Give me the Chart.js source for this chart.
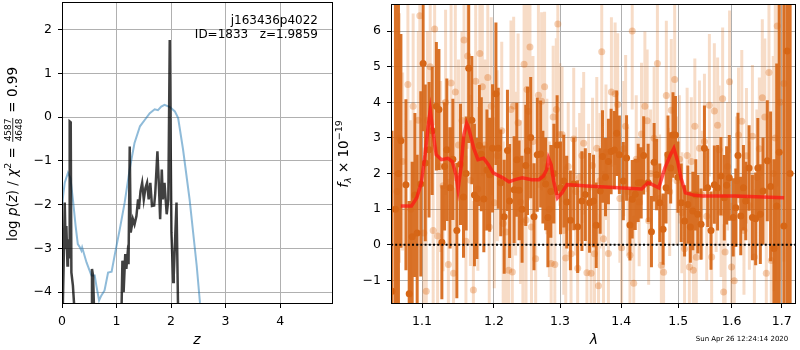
<!DOCTYPE html>
<html>
<head>
<meta charset="utf-8">
<script src="https://cdn.jsdelivr.net/npm/chart.js@4.4.0/dist/chart.umd.min.js"></script>
<style>
body { margin: 0; background: #fff; width: 800px; height: 350px; position: relative; overflow: hidden; }
canvas { position: absolute; top: 0; }
#pz { left: 0; }
#spec { left: 335px; }
</style>
</head>
<body>
<canvas id="pz" width="340" height="350"></canvas>
<canvas id="spec" width="465" height="350"></canvas>
<script>
// ---- left panel: log p(z) ----
const zTicks = [0, 1, 2, 3, 4];
const lpTicks = [-4, -3, -2, -1, 0, 1, 2];

const zBlue = [0.0, 0.02, 0.05, 0.11, 0.154, 0.20, 0.25, 0.29, 0.33, 0.356, 0.37, 0.45, 0.54, 0.60, 0.63, 0.68, 0.72, 0.78, 0.845, 0.91,
  0.97, 1.06, 1.15, 1.24, 1.33, 1.43, 1.52, 1.61, 1.70, 1.76, 1.82, 1.88, 1.98, 2.07, 2.13, 2.22, 2.34, 2.47, 2.53, 2.60];
const lpBlue = [-2.1, -1.80, -1.50, -1.27, -1.39, -1.88, -2.49, -2.90, -2.98, -3.05, -2.98, -3.32, -3.62, -3.62, -3.85, -4.19, -4.08, -3.96, -3.55, -3.53,
  -3.13, -2.56, -1.95, -1.20, -0.59, -0.21, -0.06, 0.09, 0.18, 0.16, 0.24, 0.28, 0.23, 0.13, -0.02, -0.74, -1.88, -3.39, -4.24, -4.9];

const zDark = [0.01, 0.03, 0.05, 0.068, 0.08, 0.10, 0.11, 0.13, 0.141, 0.16, 0.172, 0.20, 0.233, 0.26,
  0.51, 0.535, 0.55, 0.57, 0.59, 0.62,
  1.06, 1.09, 1.108, 1.13, 1.16, 1.18, 1.20, 1.22, 1.242, 1.26, 1.28, 1.30, 1.33, 1.365, 1.395, 1.41, 1.44, 1.47, 1.50,
  1.53, 1.56, 1.59, 1.62, 1.65, 1.69, 1.71, 1.75, 1.78, 1.80, 1.83, 1.85, 1.88, 1.92, 1.95, 1.976, 2.007, 2.04, 2.05,
  2.10, 2.13, 2.16, 4.97];
const lpDark = [-4.6, -3.39, -1.95, -3.02, -2.49, -3.39, -2.79, -3.2, -0.1, -0.12, -3.55, -3.85, -4.5, -9,
  -9, -4.5, -3.47, -3.62, -4.5, -9,
  -9, -4.5, -3.28, -4.0, -3.13, -3.47, -3.17, -3.36, -0.67, -2.64, -2.49, -2.33, -2.45, -2.26, -1.88, -2.1, -1.69, -1.5, -1.88,
  -1.62, -1.5, -1.88, -1.5, -2.03, -2.02, -1.74, -0.78, -1.65, -2.33, -1.2, -1.88, -1.5, -2.22, -1.88, 1.76, -2.64, -3.77, -3.6,
  -1.95, -4.5, -9, -9];

// ---- right panel: spectrum ----
const lamTicks = [1.1, 1.2, 1.3, 1.4, 1.5, 1.6, 1.7];
const fTicks = [-1, 0, 1, 2, 3, 4, 5, 6];

const lamDark = [1.0607, 1.0651, 1.0690, 1.0722, 1.0787, 1.0830, 1.0869, 1.0905, 1.0935, 1.0983,
  1.1014, 1.1043, 1.1093, 1.1136, 1.1192, 1.1227, 1.1267, 1.1304, 1.1335, 1.1379,
  1.1418, 1.1473, 1.1524, 1.1566, 1.1603, 1.1639, 1.1684, 1.1720, 1.1755, 1.1790,
  1.1818, 1.1854, 1.1899, 1.1939, 1.1980, 1.2029, 1.2063, 1.2099, 1.2150, 1.2198,
  1.2230, 1.2297, 1.2337, 1.2371, 1.2416, 1.2471, 1.2498, 1.2546, 1.2596, 1.2646,
  1.2698, 1.2733, 1.2775, 1.2810, 1.2856, 1.2903, 1.2954, 1.3007, 1.3059, 1.3106,
  1.3164, 1.3217, 1.3280, 1.3349, 1.3404, 1.3473, 1.3538, 1.3582, 1.3647, 1.3685,
  1.3735, 1.3784, 1.3829, 1.3884, 1.3923, 1.3968, 1.4035, 1.4090, 1.4148, 1.4187,
  1.4239, 1.4290, 1.4342, 1.4385, 1.4463, 1.4521, 1.4568, 1.4612, 1.4668, 1.4727,
  1.4780, 1.4815, 1.4863, 1.4905, 1.4949, 1.4994, 1.5054, 1.5115, 1.5175, 1.5221,
  1.5267, 1.5322, 1.5359, 1.5420, 1.5483, 1.5544, 1.5606, 1.5670, 1.5732, 1.5795,
  1.5860, 1.5904, 1.5956, 1.6032, 1.6082, 1.6125, 1.6179, 1.6232, 1.6277, 1.6343,
  1.6409, 1.6474, 1.6517, 1.6567, 1.6621, 1.6707, 1.6774, 1.6842, 1.6899, 1.6950,
  1.7046, 1.7113, 1.7175];
const fDark = [-1.3, 1.0, 2.0, 2.92, 1.69, -1.37, 0.23, 1.4, 0.33, 1.71,
  5.09, 2.3, 2.67, 3.2, 3.89, 3.8, 0.07, 2.2, 2.67, 1.6,
  2.4, 0.4, 2.26, 1.34, 2.0, 4.96, 3.5, 1.4, 1.3, 2.79,
  2.54, 1.29, 2.1, 1.97, 2.71, 4.24, 2.71, 1.74, 0.79, 2.65,
  1.23, 1.55, 2.39, 1.53, 1.0, 2.23, 2.64, 3.01, 0.79, 2.53,
  2.55, 1.9, 1.71, 0.77, 1.5, 2.0, 2.8, 1.6, 1.79, 1.2,
  0.69, 1.71, 0.51, 1.23, 1.41, 1.18, 1.23, 0.55, 1.51, 2.48,
  1.9, 2.34, 2.62, 2.66, 3.13, 2.53, 1.79, 2.44, 0.56, 1.28,
  1.42, 1.74, 1.74, 2.51, 1.74, 0.37, 2.32, 1.97, 1.18, 0.44,
  1.6, 2.53, 2.16, 3.08, 3.08, 1.9, 1.18, 0.67, 1.13, 0.5,
  0.95, 1.4, 0.86, 0.58, 2.71, 1.6, 0.4, 1.69, 1.6, 1.93,
  1.32, 1.67, 1.88, 0.77, 1.04, 2.51, 0.81, 1.6, 1.23, 2.16,
  0.77, 0.73, 2.16, 0.86, 1.51, 2.36, 1.64, -0.1, 1.09, 2.6,
  0.53, 5.44, 2.0];
const eDark = [4.5, 8, 6, 3.0, 2.4, 2.6, 2.1, 2.3, 2.2, 2.6,
  1.9, 2.2, 1.9, 1.8, 1.8, 1.7, 1.6, 1.8, 2.0, 1.7,
  1.7, 1.9, 1.7, 1.7, 1.6, 2.1, 1.8, 2.0, 1.7, 1.7,
  1.6, 1.5, 1.7, 1.6, 1.8, 2.0, 1.7, 1.5, 1.6, 1.7,
  1.6, 1.5, 1.6, 1.4, 1.5, 1.7, 1.8, 1.7, 1.5, 1.6,
  1.5, 1.3, 1.3, 1.4, 1.3, 1.4, 1.4, 1.3, 1.3, 1.3,
  1.4, 1.3, 1.3, 1.4, 1.3, 1.4, 1.3, 1.2, 1.2, 1.3,
  1.1, 1.2, 1.2, 1.1, 1.2, 1.1, 1.1, 1.2, 1.0, 1.1,
  1.0, 1.1, 1.0, 1.1, 1.1, 1.0, 1.1, 1.0, 1.1, 1.0,
  1.0, 1.1, 1.0, 1.2, 1.1, 1.0, 1.1, 1.0, 1.1, 1.0,
  1.1, 1.0, 1.1, 1.0, 1.2, 1.1, 1.1, 1.1, 1.2, 1.1,
  1.2, 1.1, 1.2, 1.1, 1.1, 1.2, 1.1, 1.2, 1.1, 1.2,
  1.2, 1.3, 1.4, 1.4, 1.5, 1.7, 2.1, 2.5, 4, 6,
  8, 8, 8];

const lamLight = [1.0671, 1.0703, 1.0744, 1.0813, 1.0852, 1.0882, 1.0950, 1.0970, 1.1023, 1.1056,
  1.1073, 1.1109, 1.1149, 1.1169, 1.1209, 1.1250, 1.1284, 1.1318, 1.1356, 1.1393,
  1.1427, 1.1452, 1.1496, 1.1545, 1.1573, 1.1600, 1.1625, 1.1663, 1.1705, 1.1738,
  1.1769, 1.1797, 1.1833, 1.1868, 1.1911, 1.1932, 1.1961, 1.2005, 1.2048, 1.2114,
  1.2135, 1.2179, 1.2216, 1.2250, 1.2270, 1.2290, 1.2319, 1.2356, 1.2393, 1.2428,
  1.2446, 1.2475, 1.2490, 1.2513, 1.2535, 1.2558, 1.2581, 1.2622, 1.2664, 1.2713,
  1.2759, 1.2794, 1.2833, 1.2861, 1.2892, 1.2918, 1.2941, 1.2965, 1.2996, 1.3032,
  1.3059, 1.3090, 1.3129, 1.3174, 1.3217, 1.3248, 1.3280, 1.3312, 1.3349, 1.3377,
  1.3430, 1.3457, 1.3498, 1.3522, 1.3554, 1.3591, 1.3619, 1.3644, 1.3673, 1.3702,
  1.3743, 1.3784, 1.3834, 1.3896, 1.3939, 1.3976, 1.4006, 1.4043, 1.4074, 1.4111,
  1.4148, 1.4187, 1.4213, 1.4256, 1.4307, 1.4347, 1.4406, 1.4446, 1.4472, 1.4507,
  1.4568, 1.4626, 1.4665, 1.4696, 1.4736, 1.4785, 1.4845, 1.4874, 1.4935, 1.4976,
  1.5021, 1.5066, 1.5115, 1.5162, 1.5203, 1.5239, 1.5276, 1.5304, 1.5331, 1.5390,
  1.5433, 1.5483, 1.5526, 1.5576, 1.5619, 1.5670, 1.5704, 1.5732, 1.5761, 1.5799,
  1.5828, 1.5847, 1.5875, 1.5923, 1.5961, 1.6000, 1.6052, 1.6096, 1.6135, 1.6199,
  1.6242, 1.6291, 1.6349, 1.6409, 1.6448, 1.6497, 1.6547, 1.6607, 1.6657, 1.6687,
  1.6741, 1.6788, 1.6828, 1.6869, 1.6909, 1.6970, 1.7046];
const fLight = [1.5, 3.0, 2.34, 4.5, 1.0, 3.89, 3.5, 6.43, 0.33, -1.3,
  3.5, 5.0, 0.4, 6.06, 0.25, 2.2, 1.66, 4.0, -0.55, 4.54,
  -0.8, 4.29, 2.8, 3.49, 5.75, 0.1, 5.3, 1.81, -1.27, 4.59,
  1.57, 5.37, 4.44, 2.8, 4.7, 0.5, 3.89, 1.18, 2.5, 3.2,
  0.6, 0.36, -0.71, 3.8, -0.76, 3.9, 2.0, 3.43, 1.2, 0.64,
  5.07, 0.7, 4.36, 3.75, 5.55, 0.5, 2.9, -0.39, 4.2, 4.03,
  4.44, 2.2, 1.0, -0.52, 3.59, -0.55, 3.8, 6.2, 3.1, 3.1,
  0.4, -0.37, 2.2, -0.25, 2.97, 1.5, -0.66, 1.9, 2.51, 2.85,
  -0.78, 1.6, -0.8, 2.23, -0.25, 2.71, -1.15, 1.8, 5.42, 0.17,
  2.6, -0.24, 4.29, 4.24, 3.94, 1.3, -0.08, 2.7, 3.33, 1.5,
  -0.29, 6.0, -1.08, 2.4, 1.2, 3.11, 3.89, 3.48, 0.68, 2.0,
  2.99, 5.09, 1.3, -0.57, -0.77, 4.19, 1.49, 3.78, 4.64, 1.8,
  2.4, 0.9, -0.11, 2.51, -0.62, 2.34, -0.71, 3.33, -0.35, 2.71,
  1.4, 2.9, 0.8, 3.92, -0.34, 3.76, 1.5, 3.36, 2.67, 0.9,
  4.1, -1.32, -0.2, 2.2, 4.58, -0.62, -1.01, 1.8, 3.08, 3.47,
  0.4, 2.5, 1.1, 3.05, -0.34, 1.9, 2.7, 4.13, 3.59, -0.8,
  4.84, -0.44, 2.0, 3.0, 6.14, 4.0, 4.53];
const eLight = [4.0, 3.5, 2.5, 2.7, 2.5, 2.6, 2.5, 2.8, 2.4, 2.6,
  2.5, 2.6, 2.4, 2.7, 2.5, 2.4, 2.4, 2.6, 2.4, 2.7,
  2.4, 2.5, 2.4, 2.5, 2.7, 2.4, 2.6, 2.4, 2.5, 2.6,
  2.3, 2.8, 2.5, 2.4, 2.6, 2.3, 2.5, 2.4, 2.4, 2.5,
  2.3, 2.3, 2.4, 2.5, 2.3, 2.5, 2.3, 2.5, 2.3, 2.3,
  2.6, 2.4, 2.6, 2.5, 2.7, 2.3, 2.4, 2.4, 2.6, 2.5,
  2.1, 1.9, 1.9, 1.9, 2.0, 1.9, 2.0, 2.2, 2.0, 1.9,
  1.8, 1.9, 1.8, 1.9, 2.0, 1.8, 1.9, 1.8, 1.9, 2.0,
  1.9, 1.8, 1.9, 1.9, 1.8, 2.0, 2.0, 1.9, 2.1, 1.9,
  1.9, 1.9, 2.1, 2.0, 2.0, 1.8, 1.9, 1.9, 2.0, 1.8,
  1.9, 2.2, 1.9, 1.8, 1.8, 2.0, 2.1, 2.0, 1.8, 1.8,
  2.0, 2.2, 1.8, 1.9, 1.9, 2.1, 1.8, 2.0, 2.1, 1.8,
  1.8, 1.7, 1.8, 1.9, 1.8, 1.8, 1.8, 1.9, 1.8, 1.9,
  1.8, 1.9, 1.8, 2.0, 1.8, 1.9, 1.7, 1.9, 1.8, 1.8,
  2.0, 1.9, 1.8, 1.8, 2.0, 1.8, 1.9, 1.8, 1.9, 2.0,
  1.8, 1.9, 1.8, 2.0, 1.9, 1.9, 2.0, 2.2, 2.2, 2.4,
  2.6, 2.8, 3.3, 4.0, 4.5, 5.0, 5.0];

const lamModel = [1.072, 1.086, 1.093, 1.099, 1.104, 1.108, 1.111, 1.114, 1.119, 1.126, 1.135, 1.141, 1.146, 1.149, 1.153,
  1.157, 1.161, 1.164, 1.171, 1.177, 1.185, 1.192, 1.199, 1.213, 1.222, 1.231, 1.242, 1.256, 1.267, 1.274, 1.279, 1.282,
  1.286, 1.290, 1.296, 1.303, 1.311, 1.327, 1.343, 1.395, 1.435, 1.446, 1.451, 1.465, 1.476, 1.486, 1.492, 1.499, 1.505,
  1.513, 1.530, 1.545, 1.608, 1.661, 1.705];
const fModel = [1.09, 1.09, 1.32, 1.74, 2.53, 3.30, 3.78, 3.27, 2.53, 2.39, 2.43, 2.34, 1.97, 1.56, 2.16,
  3.08, 3.41, 3.27, 2.71, 2.39, 2.43, 2.25, 2.02, 1.88, 1.77, 1.83, 1.88, 1.83, 1.83, 1.93, 2.11, 2.43,
  2.25, 1.79, 1.32, 1.46, 1.69, 1.67, 1.65, 1.60, 1.57, 1.74, 1.71, 1.60, 2.16, 2.53, 2.71, 2.34, 1.88,
  1.46, 1.39, 1.37, 1.37, 1.34, 1.32];

const lamMin = 1.0594, lamMax = 1.7298;

const FONT = '"DejaVu Sans", "Liberation Sans", sans-serif';
const GRID = '#b0b0b0';

function pts(xs, ys) {
  return xs.map((x, i) => ({x: x, y: ys[i]}));
}

// vertical error bars as one broken line
function errSegments(xs, ys, es) {
  const out = [];
  xs.forEach((x, i) => {
    out.push({x: x, y: ys[i] - es[i]}, {x: x, y: ys[i] + es[i]}, {x: x, y: null});
  });
  return out;
}

function minusFmt(v) {
  return String(v).replace('-', '\u2212');
}

const frame = {
  id: 'frame',
  afterDraw(chart) {
    const {ctx, chartArea: a} = chart;
    ctx.save();
    ctx.strokeStyle = '#000';
    ctx.lineWidth = 1;
    ctx.strokeRect(a.left + 0.5, a.top + 0.5, a.right - a.left - 1, a.bottom - a.top - 1);
    ctx.restore();
  }
};

// rotated label built from runs of text (with sub/superscripts and a fraction)
function drawRuns(ctx, cx, cy, runs) {
  ctx.save();
  ctx.translate(cx, cy);
  ctx.rotate(-Math.PI / 2);
  ctx.fillStyle = '#000';
  ctx.textBaseline = 'alphabetic';
  const widths = runs.map(r => {
    ctx.font = r.f;
    if (r.num) return Math.max(ctx.measureText(r.num).width, ctx.measureText(r.den).width) + 3;
    return ctx.measureText(r.t).width;
  });
  const total = widths.reduce((a, b) => a + b, 0);
  let x = -total / 2;
  runs.forEach((r, i) => {
    ctx.font = r.f;
    if (r.num) {
      const mid = x + widths[i] / 2;
      ctx.textAlign = 'center';
      ctx.fillText(r.num, mid, -6);
      ctx.fillText(r.den, mid, 4.5);
      ctx.fillRect(x + 1, -4.6, widths[i] - 2, 0.8);
    } else {
      ctx.textAlign = 'left';
      ctx.fillText(r.t, x, r.dy || 0);
    }
    x += widths[i];
  });
  ctx.restore();
}

const leftText = {
  id: 'leftText',
  afterDraw(chart) {
    const ctx = chart.ctx;
    ctx.save();
    ctx.fillStyle = '#000';
    ctx.font = '12px ' + FONT;
    ctx.textAlign = 'right';
    ctx.textBaseline = 'middle';
    ctx.fillText('j163436p4022', 318, 21);
    ctx.fillText('ID=1833   z=1.9859', 318, 35);
    ctx.font = 'italic 14px ' + FONT;
    ctx.textAlign = 'center';
    ctx.fillText('z', 197, 340);
    ctx.restore();
    const R = '13.5px ' + FONT, I = 'italic 13.5px ' + FONT;
    drawRuns(ctx, 17, 154, [
      {t: 'log ', f: R}, {t: 'p', f: I}, {t: '(', f: R}, {t: 'z', f: I}, {t: ')', f: R},
      {t: ' / ', f: R}, {t: '\u03c7', f: I}, {t: '2', f: '9.5px ' + FONT, dy: -6},
      {t: ' = ', f: R}, {num: '4587', den: '4648', f: '9px ' + FONT}, {t: ' = 0.99', f: R}
    ]);
  }
};

const rightText = {
  id: 'rightText',
  afterDraw(chart) {
    const ctx = chart.ctx;
    ctx.save();
    ctx.fillStyle = '#000';
    ctx.font = 'italic 14px ' + FONT;
    ctx.textAlign = 'center';
    ctx.textBaseline = 'middle';
    ctx.fillText('\u03bb', 259, 340);
    ctx.font = '7px ' + FONT;
    ctx.fillText('Sun Apr 26 12:24:14 2020', 407, 339);
    ctx.restore();
    const R = '13.5px ' + FONT, I = 'italic 13.5px ' + FONT;
    drawRuns(ctx, 13, 154, [
      {t: 'f', f: I}, {t: '\u03bb', f: 'italic 9.5px ' + FONT, dy: 3},
      {t: ' \u00d7 10', f: R}, {t: '\u221219', f: '9.5px ' + FONT, dy: -6}
    ]);
  }
};

function axisCommon(ticksArr, fmt, z) {
  return {
    bounds: 'data',
    z: z,
    afterBuildTicks: s => { s.ticks = ticksArr.map(v => ({value: v})); },
    grid: {color: GRID, lineWidth: 1, tickColor: '#000', tickLength: 4, drawTicks: true},
    border: {display: false},
    ticks: {color: '#000', font: {family: FONT, size: 12.5}, autoSkip: false, maxRotation: 0, callback: fmt}
  };
}

// left chart
const pzX = Object.assign(axisCommon(zTicks, v => minusFmt(v), 0), {
  type: 'linear', min: 0, max: 4.97,
  afterFit: s => { s.height = 46; s.paddingLeft = 0; s.paddingRight = 0; }
});
pzX.ticks.padding = 6;
const pzY = Object.assign(axisCommon(lpTicks, v => minusFmt(v), 0), {
  type: 'linear', min: -4.27, max: 2.63,
  afterFit: s => { s.width = 62; s.paddingTop = 0; s.paddingBottom = 0; }
});
pzY.ticks.padding = 6;

new Chart(document.getElementById('pz'), {
  type: 'line',
  data: {
    datasets: [
      {data: pts(zDark, lpDark), borderColor: 'rgba(0,0,0,0.75)', borderWidth: 2.5, pointRadius: 0, tension: 0, order: 0, clip: 0},
      {data: pts(zBlue, lpBlue), borderColor: 'rgba(31,119,180,0.5)', borderWidth: 2, pointRadius: 0, tension: 0, order: 1, clip: 0}
    ]
  },
  options: {
    responsive: false, animation: false, devicePixelRatio: 1,
    layout: {padding: {left: 0, top: 2, right: 7, bottom: 0}},
    plugins: {legend: {display: false}, tooltip: {enabled: false}},
    scales: {x: pzX, y: pzY}
  },
  plugins: [frame, leftText]
});

// right chart
const spX = Object.assign(axisCommon(lamTicks, v => Number(v).toFixed(1), 1), {
  type: 'logarithmic', min: lamMin, max: lamMax,
  afterFit: s => { s.height = 46; s.paddingLeft = 0; s.paddingRight = 0; }
});
spX.ticks.padding = 6;
const spY = Object.assign(axisCommon(fTicks, v => minusFmt(v), 1), {
  type: 'linear', min: -1.66, max: 6.76,
  afterFit: s => { s.width = 56; s.paddingTop = 0; s.paddingBottom = 0; }
});
spY.ticks.padding = 6;

const ORANGE = 'rgb(214,102,22)';

new Chart(document.getElementById('spec'), {
  type: 'line',
  data: {
    datasets: [
      {data: [{x: lamMin, y: 0}, {x: lamMax, y: 0}], borderColor: '#000', borderWidth: 2, borderDash: [2, 2.2],
        pointRadius: 0, order: 0, clip: 0},
      {data: pts(lamModel, fModel), borderColor: 'rgba(255,20,20,0.72)', borderWidth: 3.5, pointRadius: 0,
        tension: 0, order: 1, clip: 0},
      {data: pts(lamDark, fDark), showLine: false, pointRadius: 3.5, pointBorderWidth: 0,
        pointBackgroundColor: ORANGE, order: 2, clip: 0},
      {data: errSegments(lamDark, fDark, eDark), borderColor: 'rgba(214,102,22,0.92)', borderWidth: 3,
        borderCapStyle: 'butt', pointRadius: 0, spanGaps: false, order: 3, clip: 0},
      {data: pts(lamLight, fLight), showLine: false, pointRadius: 3.5, pointBorderWidth: 0,
        pointBackgroundColor: 'rgba(217,95,2,0.3)', order: 4, clip: 0},
      {data: errSegments(lamLight, fLight, eLight), borderColor: 'rgba(217,95,2,0.22)', borderWidth: 3,
        borderCapStyle: 'butt', pointRadius: 0, spanGaps: false, order: 5, clip: 0}
    ]
  },
  options: {
    responsive: false, animation: false, devicePixelRatio: 1,
    layout: {padding: {left: 0, top: 2, right: 1, bottom: 0}},
    plugins: {legend: {display: false}, tooltip: {enabled: false}},
    scales: {x: spX, y: spY}
  },
  plugins: [frame, rightText]
});
</script>
</body>
</html>
